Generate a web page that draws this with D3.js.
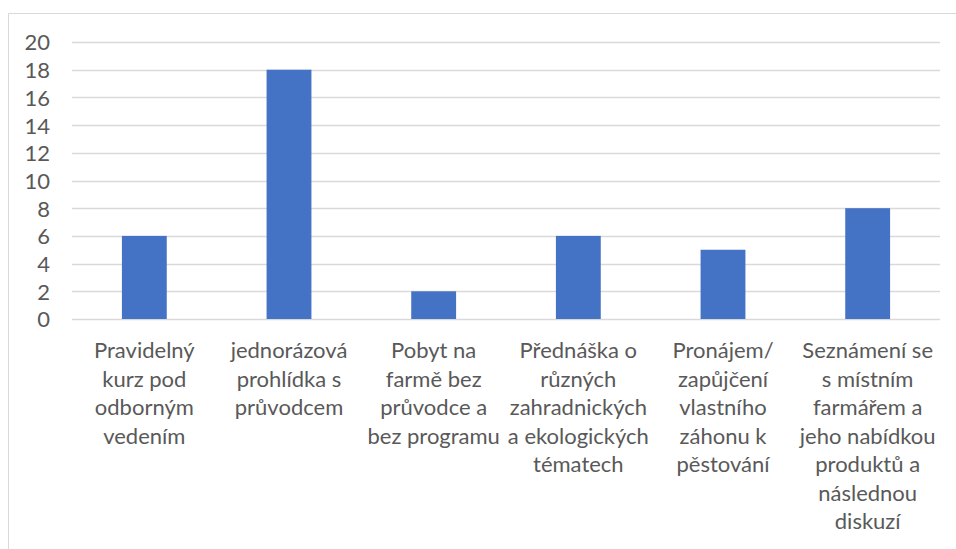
<!DOCTYPE html>
<html><head><meta charset="utf-8">
<script src="https://cdn.jsdelivr.net/npm/d3@7"></script>
<style>html,body{margin:0;padding:0;background:#fff;}svg{display:block;}</style>
</head><body>
<svg id="chart" width="956" height="549"></svg>
<script>
const categories = [
  "Pravidelný\nkurz pod\nodborným\nvedením",
  "jednorázová\nprohlídka s\nprůvodcem",
  "Pobyt na\nfarmě bez\nprůvodce a\nbez programu",
  "Přednáška o\nrůzných\nzahradnických\na ekologických\ntématech",
  "Pronájem/\nzapůjčení\nvlastního\nzáhonu k\npěstování",
  "Seznámení se\ns místním\nfarmářem a\njeho nabídkou\nproduktů a\nnáslednou\ndiskuzí"
];
const values = [6, 18, 2, 6, 5, 8];
const yTicks = [0, 2, 4, 6, 8, 10, 12, 14, 16, 18, 20];

(function () {
const svg = d3.select("#chart");
const W = 956, H = 549;
const pLeft = 72, pRight = 940, pTop = 42, pBottom = 319;
const font = "Lato, 'Open Sans', sans-serif";
const fs = 22;
const grey = "#595959";

// frame
svg.append("path").attr("d", `M8.5,${H} V13.5 H${W}`).attr("fill","none").attr("stroke","#d9d9d9").attr("stroke-width",1);

const x = d3.scaleBand().domain(d3.range(categories.length)).range([pLeft, pRight]).padding(0);
const y = d3.scaleLinear().domain([0, 20]).range([pBottom, pTop]);

// gridlines
svg.append("g").selectAll("line").data(yTicks).join("line")
  .attr("x1", pLeft).attr("x2", pRight)
  .attr("y1", d => Math.round(y(d)) + 0.5).attr("y2", d => Math.round(y(d)) + 0.5)
  .attr("stroke", "#d9d9d9").attr("stroke-width", 1.5);

// y axis labels
const yAxis = d3.axisLeft(y).tickValues(yTicks).tickSize(0).tickPadding(0);
const gy = svg.append("g").attr("transform", "translate(50,0)").call(yAxis);
gy.select(".domain").remove();
gy.selectAll("text").attr("font-family", font).attr("font-size", fs).attr("fill", grey).attr("dy", "0.36em");

// bars
const bw = x.bandwidth() * 0.31;
svg.append("g").selectAll("rect").data(values).join("rect")
  .attr("x", (d, i) => x(i) + x.bandwidth() / 2 - bw / 2)
  .attr("width", bw)
  .attr("y", d => y(d))
  .attr("height", d => y(0) - y(d))
  .attr("fill", "#4472c4");

// category labels
const lh = 28.5;
const gl = svg.append("g");
categories.forEach((c, i) => {
  const t = gl.append("text").attr("text-anchor", "middle")
    .attr("font-family", font).attr("font-size", fs).attr("fill", grey)
    .attr("transform", `translate(${x(i) + x.bandwidth() / 2},358)`);
  c.split("\n").forEach((ln, j) => {
    t.append("tspan").attr("x", 0).attr("y", j * lh).text(ln);
  });
});
})();
</script>
</body></html>
